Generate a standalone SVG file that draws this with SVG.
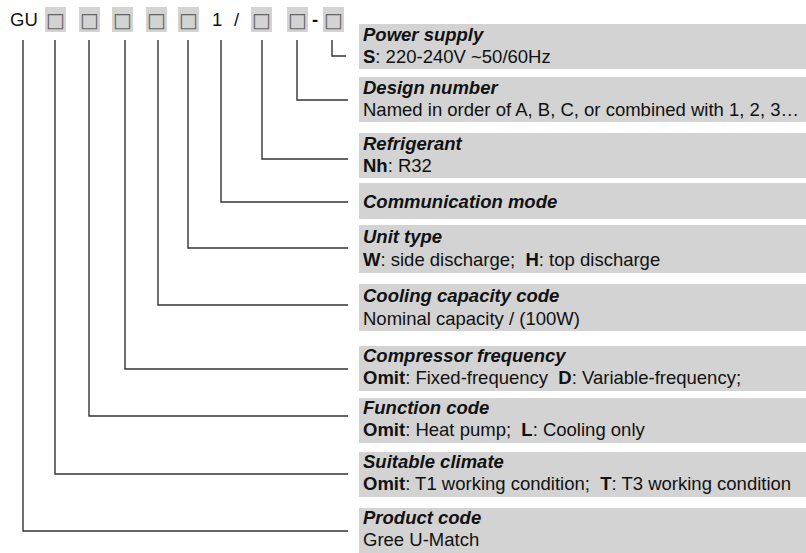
<svg xmlns="http://www.w3.org/2000/svg" width="806" height="553" viewBox="0 0 806 553">
<style>
  .bg{fill:#ffffff}
  .box{fill:#d3d3d3}
  .cell{fill:#d3d3d3}
  .sq{font-family:"DejaVu Sans",sans-serif;font-size:20px;fill:#666666}
  .hd{font-family:"Liberation Sans",Arial,sans-serif;font-size:18.5px;fill:#111}
  .t{font-family:"Liberation Sans",Arial,sans-serif;font-size:18.5px;font-weight:bold;font-style:italic;fill:#111}
  .d{font-family:"Liberation Sans",Arial,sans-serif;font-size:18.5px;fill:#111;white-space:pre}
  .b{font-weight:bold}
  .ln{fill:none;stroke:#333;stroke-width:1.4}
</style>
<rect class="bg" x="0" y="0" width="806" height="553"/>

<g id="code">
  <text class="hd" x="10" y="26">GU</text>
  <rect class="cell" x="45" y="7" width="21" height="25"/><text class="sq" x="55.5" y="27" text-anchor="middle">□</text>
  <rect class="cell" x="79" y="7" width="21" height="25"/><text class="sq" x="89.5" y="27" text-anchor="middle">□</text>
  <rect class="cell" x="112" y="7" width="21" height="25"/><text class="sq" x="122.5" y="27" text-anchor="middle">□</text>
  <rect class="cell" x="146" y="7" width="21" height="25"/><text class="sq" x="156.5" y="27" text-anchor="middle">□</text>
  <rect class="cell" x="178" y="7" width="21" height="25"/><text class="sq" x="188.5" y="27" text-anchor="middle">□</text>
  <text class="hd" x="212" y="26">1</text>
  <text class="hd" x="234" y="26">/</text>
  <rect class="cell" x="251" y="7" width="21" height="25"/><text class="sq" x="261.5" y="27" text-anchor="middle">□</text>
  <rect class="cell" x="287" y="7" width="21" height="25"/><text class="sq" x="297.5" y="27" text-anchor="middle">□</text>
  <text class="hd b" x="312" y="26">-</text>
  <rect class="cell" x="323" y="7" width="21" height="25"/><text class="sq" x="333.5" y="27" text-anchor="middle">□</text>
</g>

<g id="connectors">
  <polyline class="ln" points="332,40 332,56 346,56"/>
  <polyline class="ln" points="297,40 297,100 348,100"/>
  <polyline class="ln" points="262,40 262,159 348,159"/>
  <polyline class="ln" points="221,40 221,202 348,202"/>
  <polyline class="ln" points="188,40 188,248 348,248"/>
  <polyline class="ln" points="158,40 158,305 348,305"/>
  <polyline class="ln" points="125,40 125,369 348,369"/>
  <polyline class="ln" points="89,40 89,416 348,416"/>
  <polyline class="ln" points="55,40 55,474 348,474"/>
  <polyline class="ln" points="23,40 23,531 348,531"/>
</g>

<g id="power-supply">
  <rect class="box" x="359" y="24" width="447" height="45"/>
  <text class="t" x="363" y="41">Power supply</text>
  <text class="d" x="363" y="63"><tspan class="b">S</tspan>: 220-240V ~50/60Hz</text>
</g>
<g id="design-number">
  <rect class="box" x="359" y="77" width="447" height="45"/>
  <text class="t" x="363" y="94">Design number</text>
  <text class="d" x="363" y="116">Named in order of A, B, C, or combined with 1, 2, 3…</text>
</g>
<g id="refrigerant">
  <rect class="box" x="359" y="133" width="447" height="45"/>
  <text class="t" x="363" y="150">Refrigerant</text>
  <text class="d" x="363" y="172"><tspan class="b">Nh</tspan>: R32</text>
</g>
<g id="communication-mode">
  <rect class="box" x="359" y="183" width="447" height="36"/>
  <text class="t" x="363" y="208">Communication mode</text>
</g>
<g id="unit-type">
  <rect class="box" x="359" y="225" width="447" height="48"/>
  <text class="t" x="363" y="243">Unit type</text>
  <text class="d" x="363" y="266"><tspan class="b">W</tspan>: side discharge;  <tspan class="b">H</tspan>: top discharge</text>
</g>
<g id="cooling-capacity-code">
  <rect class="box" x="359" y="284" width="447" height="47"/>
  <text class="t" x="363" y="302">Cooling capacity code</text>
  <text class="d" x="363" y="325">Nominal capacity / (100W)</text>
</g>
<g id="compressor-frequency">
  <rect class="box" x="359" y="346" width="447" height="45"/>
  <text class="t" x="363" y="362">Compressor frequency</text>
  <text class="d" x="363" y="384"><tspan class="b">Omit</tspan>: Fixed-frequency  <tspan class="b">D</tspan>: Variable-frequency;</text>
</g>
<g id="function-code">
  <rect class="box" x="359" y="398" width="447" height="45"/>
  <text class="t" x="363" y="414">Function code</text>
  <text class="d" x="363" y="436"><tspan class="b">Omit</tspan>: Heat pump;  <tspan class="b">L</tspan>: Cooling only</text>
</g>
<g id="suitable-climate">
  <rect class="box" x="359" y="452" width="447" height="45"/>
  <text class="t" x="363" y="468">Suitable climate</text>
  <text class="d" x="363" y="490"><tspan class="b">Omit</tspan>: T1 working condition;  <tspan class="b">T</tspan>: T3 working condition</text>
</g>
<g id="product-code">
  <rect class="box" x="359" y="508" width="447" height="45"/>
  <text class="t" x="363" y="524">Product code</text>
  <text class="d" x="363" y="546">Gree U-Match</text>
</g>
</svg>
